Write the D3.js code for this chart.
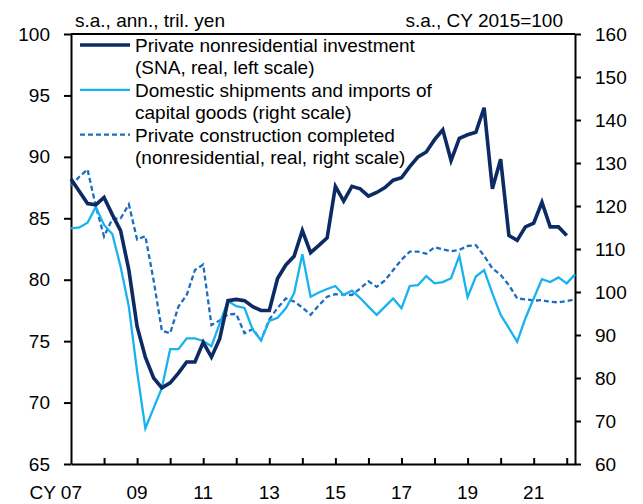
<!DOCTYPE html>
<html>
<head>
<meta charset="utf-8">
<script src="https://cdn.jsdelivr.net/npm/d3@7"></script>
<style>
  body { margin: 0; background: #fff; }
  svg text { font-family: "Liberation Sans", Arial, sans-serif; font-size: 19px; fill: #000; }
  .axis path, .axis line { stroke: #000; stroke-width: 2px; }
</style>
</head>
<body>
<div class="graph--capex"></div>
<script>
// quarterly data, first point = CY2007 Q1
var startYear = 2007;

// Private nonresidential investment (SNA, real), left scale, 2007Q1-2022Q1
var investment = [88.2, 87.2, 86.2, 86.1, 86.7, 85.3, 84.0, 80.8,
  76.2, 73.7, 72.0, 71.2, 71.6, 72.4, 73.3, 73.3,
  74.9, 73.7, 75.2, 78.3, 78.4, 78.3, 77.8, 77.5,
  77.5, 80.1, 81.2, 81.9, 84.0, 82.2, 82.8, 83.4,
  87.6, 86.4, 87.6, 87.4, 86.8, 87.1, 87.5, 88.1,
  88.3, 89.2, 90.0, 90.4, 91.4, 92.2, 89.7, 91.5,
  91.8, 92.0, 94.0, 87.4, 89.8, 83.6, 83.2, 84.3,
  84.6, 86.3, 84.3, 84.3, 83.6];

// Domestic shipments and imports of capital goods, right scale, 2007Q1-2022Q2
var shipments = [114.8, 115.0, 116.1, 119.8, 115.6, 113.5, 105.9, 96.6,
  81.5, 68.3, 73.0, 77.7, 86.7, 86.7, 89.2, 89.2,
  88.6, 87.4, 92.7, 97.9, 96.7, 96.3, 91.2, 88.8,
  93.3, 94.0, 96.2, 99.7, 108.8, 98.9, 99.9, 100.7,
  101.4, 99.3, 100.3, 98.6, 96.6, 94.7, 96.6, 98.5,
  96.2, 101.4, 101.6, 103.7, 102.0, 102.3, 103.2, 108.4,
  98.8, 103.6, 105.1, 99.7, 94.7, 91.6, 88.4, 93.9,
  98.5, 103.0, 102.3, 103.4, 102.0, 104.1];

// Private construction completed (nonresidential, real), right scale, 2007Q1-2022Q2
var construction = [124.7, 126.8, 128.5, 120.0, 112.9, 117.0, 117.1, 120.4,
  112.2, 113.0, 102.7, 91.0, 90.4, 96.6, 99.3, 105.1,
  106.4, 92.3, 93.4, 94.8, 94.9, 90.4, 91.4, 88.8,
  93.6, 96.3, 98.5, 97.8, 96.4, 94.7, 96.9, 98.9,
  99.5, 99.4, 99.3, 100.8, 102.5, 101.2, 102.7, 105.1,
  107.5, 109.4, 109.4, 108.9, 110.4, 109.9, 109.5, 109.8,
  110.7, 110.9, 108.4, 105.5, 104.0, 101.6, 98.5, 98.3,
  98.0, 98.1, 97.7, 97.6, 97.9, 98.3];

var leftTicks = [65, 70, 75, 80, 85, 90, 95, 100];
var rightTicks = [60, 70, 80, 90, 100, 110, 120, 130, 140, 150, 160];
var yearTicks = [2008, 2009, 2010, 2011, 2012, 2013, 2014, 2015, 2016, 2017, 2018, 2019, 2020, 2021, 2022];
var labelYears = [2007, 2009, 2011, 2013, 2015, 2017, 2019, 2021];
var labelTexts = ["CY 07", "09", "11", "13", "15", "17", "19", "21"];

var seriesNames = [
  ["Private nonresidential investment", "(SNA, real, left scale)"],
  ["Domestic shipments and imports of", "capital goods (right scale)"],
  ["Private construction completed", "(nonresidential, real, right scale)"]
];

function CapexGraph() {
  this.margin = { top: 34, left: 71, right: 68, bottom: 40 };
  this.options = { width: 643, height: 504 };

  this.setup = function() {
    this.svg = d3.select(".graph--capex").append("svg")
        .attr("width", this.options.width)
        .attr("height", this.options.height);
    this.x = d3.scaleLinear()
        .domain([startYear, 2022.25])
        .range([this.margin.left, this.options.width - this.margin.right]);
    this.yLeft = d3.scaleLinear()
        .domain([65, 100])
        .range([this.options.height - this.margin.bottom, this.margin.top]);
    this.yRight = d3.scaleLinear()
        .domain([60, 160])
        .range([this.options.height - this.margin.bottom, this.margin.top]);
  };

  this.draw = function() {
    var x = this.x, yL = this.yLeft, yR = this.yRight;
    var bottom = this.options.height - this.margin.bottom;
    var left = this.margin.left, right = this.options.width - this.margin.right;
    var t = function(i) { return x(startYear + i / 4); };

    // axes
    var leftAxis = this.svg.append("g")
        .attr("class", "axis")
        .attr("transform", "translate(" + left + ",0)")
        .call(d3.axisLeft(yL).tickValues(leftTicks).tickSize(7).tickSizeOuter(0).tickPadding(14));
    var rightAxis = this.svg.append("g")
        .attr("class", "axis")
        .attr("transform", "translate(" + right + ",0)")
        .call(d3.axisRight(yR).tickValues(rightTicks).tickSize(6).tickSizeOuter(0).tickPadding(14));
    var xAxis = this.svg.append("g")
        .attr("class", "axis")
        .attr("transform", "translate(0," + bottom + ")")
        .call(d3.axisBottom(x).tickValues(yearTicks).tickSize(-6).tickSizeOuter(0).tickFormat(""));
    this.svg.selectAll(".axis text").style("font-size", "19px").style("font-family", null);

    // top frame line
    this.svg.append("line")
        .attr("x1", left).attr("x2", right)
        .attr("y1", this.margin.top).attr("y2", this.margin.top)
        .attr("stroke", "#000").attr("stroke-width", 2);

    // x labels, the "07" of the first one sits under the axis
    this.svg.selectAll(".x-label")
        .data(labelYears)
        .enter().append("text")
        .attr("class", "x-label")
        .attr("x", function(d, i) { return i === 0 ? x(d) + 11 : x(d); })
        .attr("y", 499)
        .attr("text-anchor", function(d, i) { return i === 0 ? "end" : "middle"; })
        .text(function(d, i) { return labelTexts[i]; });

    // unit labels
    this.svg.append("text").attr("x", left + 4).attr("y", 27).text("s.a., ann., tril. yen");
    this.svg.append("text").attr("x", right - 12).attr("y", 27)
        .attr("text-anchor", "end").text("s.a., CY 2015=100");

    // lines
    var styles = [
      { color: "#0c2a63", width: 3.6, dash: null },
      { color: "#18b2ef", width: 2.3, dash: null },
      { color: "#1d6dc1", width: 2.3, dash: "5,3" }
    ];
    var lineL = d3.line().x(function(d, i) { return t(i); }).y(function(d) { return yL(d); });
    var lineR = d3.line().x(function(d, i) { return t(i); }).y(function(d) { return yR(d); });
    var plot = this.svg.append("g");
    plot.append("path").datum(construction).attr("d", lineR)
        .attr("fill", "none").attr("stroke", styles[2].color)
        .attr("stroke-width", styles[2].width).attr("stroke-dasharray", styles[2].dash);
    plot.append("path").datum(shipments).attr("d", lineR)
        .attr("fill", "none").attr("stroke", styles[1].color).attr("stroke-width", styles[1].width);
    plot.append("path").datum(investment).attr("d", lineL)
        .attr("fill", "none").attr("stroke", styles[0].color)
        .attr("stroke-width", styles[0].width).attr("stroke-linejoin", "miter");

    // legend
    var legend = this.svg.append("g").attr("class", "legend");
    seriesNames.forEach(function(name, k) {
      var base = 52 + k * 44.8;
      legend.append("line")
          .attr("x1", 80).attr("x2", 130)
          .attr("y1", base - 7).attr("y2", base - 7)
          .attr("stroke", styles[k].color)
          .attr("stroke-width", styles[k].width)
          .attr("stroke-dasharray", styles[k].dash);
      legend.append("text").attr("x", 135).attr("y", base).text(name[0]);
      legend.append("text").attr("x", 135).attr("y", base + 22.4).text(name[1]);
    });
  };
}

var graph = new CapexGraph();
graph.setup();
graph.draw();
</script>
</body>
</html>
